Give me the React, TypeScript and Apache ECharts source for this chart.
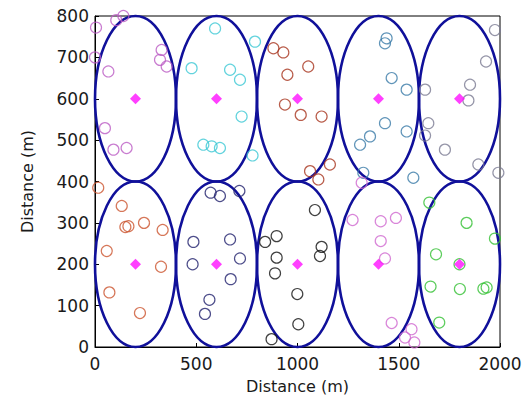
import React, { useEffect, useRef } from "react";
import * as echarts from "echarts";

const xTicks = [0, 500, 1000, 1500, 2000];
const yTicks = [0, 100, 200, 300, 400, 500, 600, 700, 800];

const clusterCenters = [
  [200, 600], [600, 600], [1000, 600], [1400, 600], [1800, 600],
  [200, 200], [600, 200], [1000, 200], [1400, 200], [1800, 200],
];
const clusterRadius = 200;

const cluster1 = [[5, 772], [105, 790], [140, 800], [0, 700], [66, 666], [329, 718], [321, 694], [354, 678], [49, 529], [91, 477], [156, 481]];
const cluster2 = [[593, 770], [477, 674], [667, 670], [716, 646], [724, 557], [535, 489], [576, 485], [617, 481], [790, 738], [778, 463]];
const cluster3 = [[881, 722], [930, 712], [1053, 678], [950, 658], [938, 586], [1016, 561], [1119, 557], [1062, 425], [1160, 441], [1103, 405]];
const cluster4 = [[1440, 746], [1432, 734], [1465, 650], [1539, 622], [1432, 541], [1358, 509], [1309, 489], [1539, 521], [1572, 409], [1325, 421]];
const cluster5 = [[1975, 766], [1931, 690], [1852, 634], [1844, 596], [1630, 622], [1646, 541], [1630, 511], [1728, 477], [1893, 441], [1992, 421]];
const cluster6 = [[16, 385], [132, 341], [165, 292], [150, 290], [242, 300], [334, 283], [58, 232], [326, 194], [71, 132], [222, 82]];
const cluster7 = [[571, 373], [617, 365], [713, 377], [486, 254], [667, 260], [716, 214], [482, 200], [670, 164], [565, 114], [543, 80]];
const cluster8 = [[1086, 331], [897, 268], [840, 254], [1119, 242], [1111, 220], [897, 216], [889, 178], [999, 128], [1004, 55], [872, 19]];
const cluster9 = [[1272, 307], [1411, 304], [1486, 312], [1411, 256], [1432, 214], [1317, 397], [1465, 58], [1563, 43], [1531, 23], [1577, 11]];
const cluster10 = [[1651, 349], [1835, 300], [1975, 262], [1684, 224], [1657, 146], [1802, 140], [1918, 141], [1934, 144], [1700, 59], [1800, 200]];

const clusters = [cluster1, cluster2, cluster3, cluster4, cluster5, cluster6, cluster7, cluster8, cluster9, cluster10];
const clusterColors = ["#bb5cc4", "#3cc8d4", "#a8341e", "#3a7aa8", "#7a7a92", "#cc5530", "#22226e", "#111111", "#d068d0", "#34c034"];

export default function App() {
  const ref = useRef<HTMLDivElement>(null);
  useEffect(() => {
    if (!ref.current) return;
    const chart = echarts.init(ref.current, undefined, { renderer: "svg" });
    const font = "DejaVu Sans, sans-serif";
    const scatterSeries = clusters.map((pts, i) => ({
      type: "scatter",
      data: pts,
      symbol: "circle",
      symbolSize: 11,
      itemStyle: { color: "rgba(0,0,0,0)", borderColor: clusterColors[i], borderWidth: 1.2 },
      z: 3,
    }));
    chart.setOption({
      animation: false,
      backgroundColor: "#ffffff",
      grid: { left: 95, right: 27, top: 16, bottom: 51, show: true, borderColor: "#000", borderWidth: 1 },
      xAxis: {
        type: "value",
        min: xTicks[0],
        max: xTicks[xTicks.length - 1],
        interval: 500,
        name: "Distance (m)",
        nameLocation: "middle",
        nameGap: 31,
        nameTextStyle: { fontFamily: font, fontSize: 16, color: "#1a1a1a" },
        axisLine: { lineStyle: { color: "#000" } },
        axisTick: { inside: true, length: 4, lineStyle: { color: "#000" } },
        axisLabel: { fontFamily: font, fontSize: 17, color: "#1a1a1a", margin: 8, formatter: (v: number) => String(v) },
        splitLine: { show: false },
      },
      yAxis: {
        type: "value",
        min: yTicks[0],
        max: yTicks[yTicks.length - 1],
        interval: 100,
        name: "Distance (m)",
        nameLocation: "middle",
        nameGap: 60,
        nameTextStyle: { fontFamily: font, fontSize: 16, color: "#1a1a1a" },
        axisLine: { lineStyle: { color: "#000" } },
        axisTick: { inside: true, length: 4, lineStyle: { color: "#000" } },
        axisLabel: { fontFamily: font, fontSize: 17, color: "#1a1a1a", margin: 6, formatter: (v: number) => String(v) },
        splitLine: { show: false },
      },
      series: [
        {
          type: "custom",
          data: clusterCenters,
          z: 2,
          renderItem: (params: any, api: any) => {
            const c = api.coord([api.value(0), api.value(1)]);
            const s = api.size([clusterRadius, clusterRadius]);
            return {
              type: "ellipse",
              shape: { cx: c[0], cy: c[1], rx: s[0], ry: s[1] },
              style: { fill: "none", stroke: "#10109a", lineWidth: 2.6 },
            };
          },
        },
        ...scatterSeries,
        {
          type: "scatter",
          data: clusterCenters,
          symbol: "diamond",
          symbolSize: 11,
          itemStyle: { color: "#ff10ff" },
          z: 4,
        },
      ],
    });
    return () => chart.dispose();
  }, []);
  return <div ref={ref} style={{ width: 527, height: 399, position: "absolute", left: 0, top: 0 }} />;
}
